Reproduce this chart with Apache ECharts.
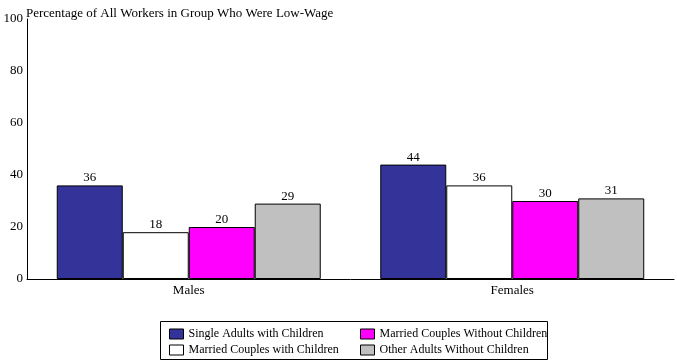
<!DOCTYPE html>
<html><head><meta charset="utf-8">
<script src="https://cdn.jsdelivr.net/npm/echarts@6/dist/echarts.min.js"></script>
<style>html,body{margin:0;padding:0;background:#fff}#c{width:677px;height:363px}</style>
</head><body><div id="c"></div>
<script>
var categories = ['Males', 'Females'];
var seriesNames = ['Single Adults with Children', 'Married Couples with Children', 'Married Couples Without Children', 'Other Adults Without Children'];
var singleWithChildren = [36, 44];
var marriedWithChildren = [18, 36];
var marriedWithoutChildren = [20, 30];
var otherWithoutChildren = [29, 31];
var yTicks = [0, 20, 40, 60, 80, 100];
var colors = ['#333399', '#FFFFFF', '#FF00FF', '#C0C0C0'];
var values = [singleWithChildren, marriedWithChildren, marriedWithoutChildren, otherWithoutChildren];
var font = '"Liberation Serif", "Times New Roman", serif';

var chart = echarts.init(document.getElementById('c'), null, {renderer: 'canvas'});
var series = values.map(function (v, i) {
  return {
    name: seriesNames[i], type: 'bar', data: v,
    barGap: '0%', barCategoryGap: '18.4%',
    itemStyle: {color: colors[i], borderColor: '#000', borderWidth: 1},
    label: {show: true, position: 'top', distance: 1, color: '#000', fontFamily: font, fontSize: 13},
    emphasis: {disabled: true}
  };
});
var legendPos = [[169, 328], [169, 344], [360, 328], [360, 344]];
var legends = seriesNames.map(function (n, i) {
  return {data: [n], orient: 'horizontal', left: legendPos[i][0], top: legendPos[i][1], padding: 0,
    icon: 'rect', itemWidth: 14, itemHeight: 10, itemTextGap: 7, selectedMode: false,
    itemStyle: {borderColor: '#000', borderWidth: 1},
    textStyle: {color: '#000', fontFamily: font, fontSize: 12}};
});
chart.setOption({
  animation: false,
  backgroundColor: '#fff',
  textStyle: {fontFamily: font},
  title: {text: 'Percentage of All Workers in Group Who Were Low-Wage', left: 21, top: 2,
    textStyle: {fontFamily: font, fontSize: 13, fontWeight: 'normal', color: '#000'}},
  grid: {left: 27, right: 3, top: 19, bottom: 84, containLabel: false},
  xAxis: {type: 'category', data: categories,
    axisLine: {lineStyle: {color: '#000', width: 1}}, axisTick: {show: false},
    axisLabel: {color: '#000', fontFamily: font, fontSize: 13, margin: 5}},
  yAxis: {type: 'value', min: yTicks[0], max: yTicks[yTicks.length - 1], interval: 20,
    axisLine: {show: true, lineStyle: {color: '#000', width: 1}}, axisTick: {show: false},
    splitLine: {show: false},
    axisLabel: {color: '#000', fontFamily: font, fontSize: 13, margin: 4}},
  legend: legends,
  graphic: [{type: 'rect', shape: {x: 160.5, y: 321.5, width: 387, height: 38},
    style: {fill: null, stroke: '#000', lineWidth: 1}, silent: true}],
  series: series
});
</script></body></html>
